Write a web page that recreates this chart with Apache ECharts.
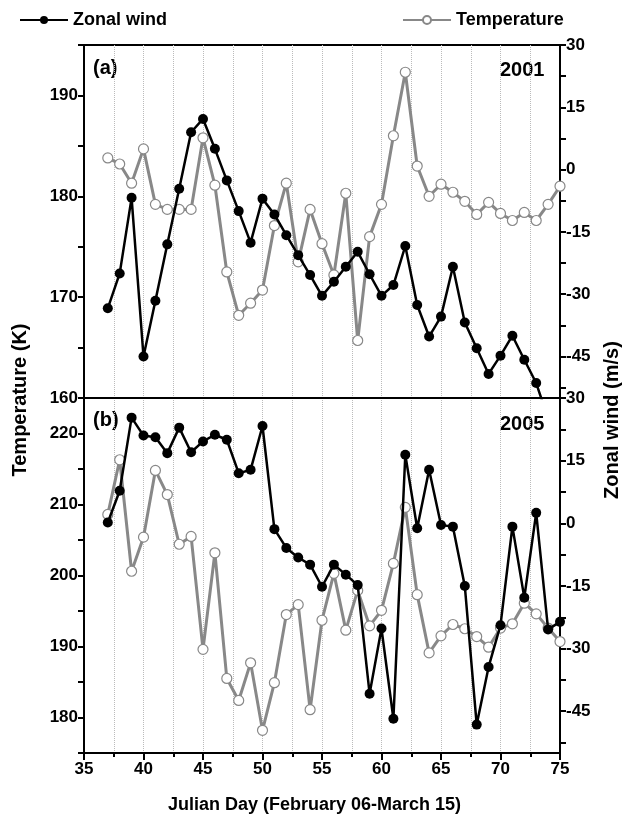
<!DOCTYPE html>
<html>
<head>
<meta charset="utf-8">
<script src="https://cdn.jsdelivr.net/npm/echarts@6/dist/echarts.min.js"></script>
<style>html,body{margin:0;padding:0;background:#fff}#chart1{width:629px;height:827px}</style>
</head>
<body>
<div id="chart1"></div>
<script>
var days = [];
for (var d = 37; d <= 75; d++) days.push(d);

// panel (a) 2001, days 37-75
var wind2001 = [-33.4, -25.0, -6.8, -45.0, -31.6, -18.0, -4.6, 9.0, 12.2, 5.0, -2.6, -10.0, -17.6, -7.0, -10.8, -15.8, -20.6, -25.4, -30.4, -27.0, -23.4, -19.8, -25.2, -30.4, -27.8, -18.4, -32.6, -40.2, -35.4, -23.4, -36.8, -43.0, -49.2, -44.8, -40.0, -45.8, -51.4, -60.0, null];
var temp2001 = [183.8, 183.2, 181.3, 184.7, 179.2, 178.7, 178.7, 178.7, 185.8, 181.1, 172.5, 168.2, 169.4, 170.7, 177.1, 181.3, 173.5, 178.7, 175.3, 172.2, 180.3, 165.7, 176.0, 179.2, 186.0, 192.3, 183.0, 180.0, 181.2, 180.4, 179.5, 178.2, 179.4, 178.3, 177.6, 178.4, 177.6, 179.2, 181.0];
// panel (b) 2005
var wind2005 = [0.2, 7.8, 25.3, 21.0, 20.6, 16.8, 22.9, 17.0, 19.6, 21.2, 20.0, 12.0, 12.8, 23.3, -1.4, -5.9, -8.2, -9.9, -15.2, -9.9, -12.3, -14.8, -40.8, -25.2, -46.8, 16.4, -1.2, 12.8, -0.4, -0.8, -15.0, -48.2, -34.4, -24.4, -0.8, -17.8, 2.5, -25.4, -23.6];
var temp2005 = [208.6, 216.3, 200.6, 205.4, 214.8, 211.4, 204.4, 205.5, 189.6, 203.2, 185.5, 182.4, 187.7, 178.2, 184.9, 194.5, 195.9, 181.1, 193.7, 200.3, 192.3, 197.9, 192.9, 195.1, 201.7, 209.6, 197.3, 189.1, 191.5, 193.1, 192.5, 191.4, 189.9, 192.6, 193.2, 196.1, 194.6, 192.6, 190.7];

var windLabels = [-45, -30, -15, 0, 15, 30];
var windTicks = [-52.5, -45, -37.5, -30, -22.5, -15, -7.5, 0, 7.5, 15, 22.5, 30];
var tempLabelsA = [160, 170, 180, 190];
var tempTicksA = [160, 165, 170, 175, 180, 185, 190, 195];
var tempLabelsB = [180, 190, 200, 210, 220];
var tempTicksB = [175, 180, 185, 190, 195, 200, 205, 210, 215, 220, 225];

function pair(arr) { return arr.map(function (v, i) { return [days[i], v]; }); }

var font = 'Liberation Sans';
var lbl = { color: '#000', fontFamily: font, fontWeight: 'bold', fontSize: 17 };
var axLine = { show: true, onZero: false, lineStyle: { color: '#000', width: 2 } };

function yAx(gi, pos, min, max, labels, ticks) {
    return {
        type: 'value', gridIndex: gi, position: pos, min: min, max: max,
        axisLine: axLine,
        axisTick: { show: true, customValues: ticks, length: 6, lineStyle: { color: '#000', width: 2 } },
        axisLabel: Object.assign({ customValues: labels, margin: 6 }, lbl),
        splitLine: { show: false }
    };
}
function xAx(gi, showLabel) {
    return {
        type: 'value', gridIndex: gi, min: 35, max: 75, interval: 5,
        axisLine: axLine,
        axisTick: { show: showLabel, length: 7, lineStyle: { color: '#000', width: 2 } },
        minorTick: { show: showLabel, splitNumber: 2, length: 4, lineStyle: { color: '#000', width: 2 } },
        axisLabel: Object.assign({ show: showLabel, margin: 8 }, lbl),
        splitLine: { show: true, lineStyle: { color: '#bbb', type: 'dotted', width: 1 } },
        minorSplitLine: { show: true, lineStyle: { color: '#bbb', type: 'dotted', width: 1 } }
    };
}
function windSeries(name, xi, yi, data) {
    return { name: name, type: 'line', xAxisIndex: xi, yAxisIndex: yi, data: pair(data),
        symbol: 'circle', symbolSize: 10, itemStyle: { color: '#000' },
        lineStyle: { color: '#000', width: 2.5 }, z: 3 };
}
function tempSeries(name, xi, yi, data) {
    return { name: name, type: 'line', xAxisIndex: xi, yAxisIndex: yi, data: pair(data),
        symbol: 'circle', symbolSize: 10,
        itemStyle: { color: '#fff', borderColor: '#888', borderWidth: 1.2 },
        lineStyle: { color: '#888', width: 3 }, z: 2 };
}

var myChart = echarts.init(document.getElementById('chart1'));
var option = {
    animation: false,
    backgroundColor: '#fff',
    legend: {
        top: 6, left: 14, itemWidth: 48, itemHeight: 10, itemGap: 235,
        data: ['Zonal wind', 'Temperature'],
        textStyle: { color: '#000', fontFamily: font, fontWeight: 'bold', fontSize: 18 }
    },
    grid: [
        { left: 84, right: 69, top: 45, height: 353, show: true, borderColor: '#000', borderWidth: 2 },
        { left: 84, right: 69, top: 398, bottom: 74, show: true, borderColor: '#000', borderWidth: 2 }
    ],
    xAxis: [xAx(0, false), xAx(1, true)],
    yAxis: [
        yAx(0, 'left', 160, 195, tempLabelsA, tempTicksA),
        yAx(0, 'right', -55, 30, windLabels, windTicks),
        yAx(1, 'left', 175, 225, tempLabelsB, tempTicksB),
        yAx(1, 'right', -55, 30, windLabels, windTicks)
    ],
    graphic: [
        { type: 'text', left: 93, top: 58, style: { text: '(a)', font: 'bold 20px Liberation Sans', fill: '#000' } },
        { type: 'text', left: 500, top: 60, style: { text: '2001', font: 'bold 20px Liberation Sans', fill: '#000' } },
        { type: 'text', left: 93, top: 410, style: { text: '(b)', font: 'bold 20px Liberation Sans', fill: '#000' } },
        { type: 'text', left: 500, top: 414, style: { text: '2005', font: 'bold 20px Liberation Sans', fill: '#000' } },
        { type: 'text', rotation: Math.PI / 2, x: 20, y: 400, style: { text: 'Temperature (K)', font: 'bold 20px Liberation Sans', fill: '#000', align: 'center', verticalAlign: 'middle' } },
        { type: 'text', rotation: Math.PI / 2, x: 612, y: 420, style: { text: 'Zonal wind (m/s)', font: 'bold 20px Liberation Sans', fill: '#000', align: 'center', verticalAlign: 'middle' } },
        { type: 'text', left: 'center', top: 796, style: { text: 'Julian Day (February 06-March 15)', font: 'bold 18px Liberation Sans', fill: '#000' } }
    ],
    series: [
        windSeries('Zonal wind', 0, 1, wind2001),
        tempSeries('Temperature', 0, 0, temp2001),
        windSeries('Zonal wind', 1, 3, wind2005),
        tempSeries('Temperature', 1, 2, temp2005)
    ]
};
myChart.setOption(option);
window.onresize = myChart.resize;
</script>
</body>
</html>
